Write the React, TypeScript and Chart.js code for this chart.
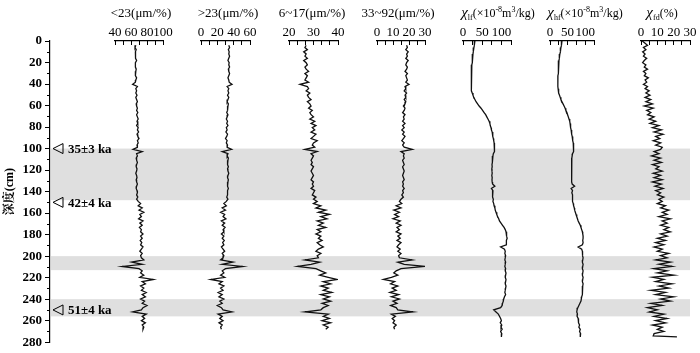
import React, { useEffect, useRef } from 'react';
import { Chart, registerables } from 'chart.js';

Chart.register(...registerables);

const W = 700;
const H = 353;
const SERIF = "'Liberation Serif', 'Times New Roman', 'DejaVu Serif', serif";
const CJK_SERIF = "'Liberation Serif', 'Noto Serif CJK SC', 'Noto Sans CJK SC', serif";
const PLOT_TOP = 41;
const PLOT_BOTTOM = 344.5;
const PAD = 48;

// ---- depth axis ----
const depthTicks = [0, 20, 40, 60, 80, 100, 120, 140, 160, 180, 200, 220, 240, 260, 280];
const depthMinorTicks = [10, 30, 50, 70, 90, 110, 130, 150, 170, 190, 210, 230, 250, 270];
const bandStart = [100, 200, 240];
const bandEnd = [148, 213, 256];
const markerDepth = [100, 150, 250];
const markerLabel = ['35±3 ka', '42±4 ka', '51±4 ka'];

// ---- sample depths (cm) ----
const grainDepth = [
  4, 6, 8, 10, 12, 14, 16, 18, 20, 22,
  24, 26, 28, 30, 32, 34, 36, 38, 40, 42,
  44, 46, 48, 50, 52, 54, 56, 58, 60, 62,
  64, 66, 68, 70, 72, 74, 76, 78, 80, 82,
  84, 86, 88, 90, 92, 94, 96, 98, 100, 102,
  104, 106, 108, 110, 112, 114, 116, 118, 120, 122,
  124, 126, 128, 130, 132, 134, 136, 138, 140, 142,
  144, 146, 148, 150, 152, 154, 156, 158, 160, 162,
  164, 166, 168, 170, 172, 174, 176, 178, 180, 182,
  184, 186, 188, 190, 192, 194, 196, 198, 200, 202,
  204, 206, 208, 210, 212, 214, 216, 218, 220, 222,
  224, 226, 228, 230, 232, 234, 236, 238, 240, 242,
  244, 246, 248, 250, 252, 254, 256, 258, 260, 262,
  264, 266,
];
const magDepth = [
  0, 2, 4, 6, 8, 10, 12, 14, 16, 18,
  20, 22, 24, 26, 28, 30, 32, 34, 36, 38,
  40, 42, 44, 46, 48, 50, 52, 54, 56, 58,
  60, 62, 64, 66, 68, 70, 72, 74, 76, 78,
  80, 82, 84, 86, 88, 90, 92, 94, 96, 98,
  100, 102, 104, 106, 108, 110, 112, 114, 116, 118,
  120, 122, 124, 126, 128, 130, 132, 134, 136, 138,
  140, 142, 144, 146, 148, 150, 152, 154, 156, 158,
  160, 162, 164, 166, 168, 170, 172, 174, 176, 178,
  180, 182, 184, 186, 188, 190, 192, 194, 196, 198,
  200, 202, 204, 206, 208, 210, 212, 214, 216, 218,
  220, 222, 224, 226, 228, 230, 232, 234, 236, 238,
  240, 242, 244, 246, 248, 250, 252, 254, 256, 258,
  260, 262, 264, 266, 268, 270, 272, 273,
];

// ---- series ----
const finerThan23 = [
  66, 65, 66.5, 65.5, 66, 65, 66, 67, 65.5, 66,
  65, 66.5, 66, 65, 66, 67, 66, 65.5, 62, 68,
  66, 67, 66, 67.5, 66, 67, 68, 66.5, 67, 68,
  67, 68.5, 67, 68, 69, 67.5, 68.5, 67, 69, 68,
  69.5, 67.5, 68.5, 70, 68, 69, 67.5, 68, 62.5, 74,
  67, 68, 66.5, 67, 68, 67, 66.5, 67.5, 67, 66,
  67, 67.5, 66.5, 67, 68, 67, 66.5, 67.5, 68, 67,
  68.5, 67, 69, 72, 69, 74, 70, 76, 71, 73,
  69.5, 75, 71, 74, 70.5, 73, 72, 75, 72, 74,
  71.5, 73.5, 72, 75, 73, 71, 74, 72, 73, 76,
  61, 74, 49, 70, 74, 72, 76, 71, 88, 74,
  78, 72, 76, 73, 79, 74, 78, 72, 77, 74,
  80, 75, 73, 62, 79, 74, 77, 73, 78, 74,
  76, 75,
];
const coarserThan23 = [
  34, 35, 33.5, 34.5, 34, 35, 34, 33, 34.5, 34,
  35, 33.5, 34, 35, 34, 33, 34, 34.5, 38, 32,
  34, 33, 34, 32.5, 34, 33, 32, 33.5, 33, 32,
  33, 31.5, 33, 32, 31, 32.5, 31.5, 33, 31, 32,
  30.5, 32.5, 31.5, 30, 32, 31, 32.5, 32, 37.5, 26,
  33, 32, 33.5, 33, 32, 33, 33.5, 32.5, 33, 34,
  33, 32.5, 33.5, 33, 32, 33, 33.5, 32.5, 32, 33,
  31.5, 33, 31, 28, 31, 26, 30, 24, 29, 27,
  30.5, 25, 29, 26, 29.5, 27, 28, 25, 28, 26,
  28.5, 26.5, 28, 25, 27, 29, 26, 28, 27, 24,
  39, 26, 51, 30, 26, 28, 24, 29, 12, 26,
  22, 28, 24, 27, 21, 26, 22, 28, 23, 26,
  20, 25, 27, 38, 21, 26, 23, 27, 22, 26,
  24, 25,
];
const fine6to17 = [
  27, 26.5, 27.5, 26, 27, 26.5, 27.5, 26, 27, 27.5,
  26.5, 27, 28, 26.5, 27.5, 27, 26.5, 28, 24.5, 27.5,
  28, 27, 28.5, 27.5, 28, 29, 27.5, 28.5, 29, 28,
  29.5, 28.5, 29, 30, 28.5, 30.5, 29, 31, 29.5, 30.5,
  29, 31, 30, 29, 31.5, 30, 29.5, 30.5, 26.5, 31.5,
  29, 30, 29.5, 29, 29.5, 29, 30, 29.5, 29, 29.5,
  30, 29.5, 29, 30, 29.5, 30, 29, 30.5, 30, 29.5,
  31, 30, 31.5, 30, 33, 31, 35, 32, 36.5, 33,
  35.5, 31.5, 34, 32, 35, 31.5, 33, 31, 33, 32,
  33.5, 31.5, 32.5, 34, 32, 31, 33, 31.5, 32, 26.5,
  32.5, 29, 23.5, 31, 33, 35, 32.5, 36, 39.5, 34,
  37, 33, 36, 34, 37.5, 33, 36.5, 34, 37, 33.5,
  36, 34, 33, 26.5, 36, 34, 36.5, 33.5, 37, 34,
  36, 35,
];
const coarse33to92 = [
  18.5, 19, 18, 19.5, 18.5, 19, 18, 19.5, 18.5, 18,
  19, 18.5, 17.5, 19, 18, 18.5, 19, 18, 20, 17.5,
  18, 17, 18.5, 17.5, 18, 17, 18, 17.5, 16.5, 17.5,
  17, 16, 17.5, 16.5, 17, 16, 17.5, 16, 17, 15.5,
  17, 16, 17.5, 16.5, 15.5, 17, 16, 17, 22, 15,
  17, 16.5, 17, 16, 16.5, 17, 16, 16.5, 17, 16.5,
  16, 16.5, 17, 16, 16.5, 16, 17, 16, 16.5, 15.5,
  16.5, 15, 14, 15.5, 12, 15, 10.5, 14, 11, 13.5,
  10, 14.5, 12, 15, 12.5, 14, 12, 15, 13, 14.5,
  12.5, 15, 13.5, 12.5, 14.5, 13, 15, 13.5, 14, 22,
  13, 17, 30, 15, 12, 10.5, 13, 9, 4, 11,
  8.5, 13, 9.5, 12, 8, 13.5, 9, 14, 10, 12.5,
  8.5, 12, 13, 22.5, 9, 11.5, 9.5, 11, 10, 12,
  10.5, 11,
];
const chiLf = [
  31, 30, 29, 28.5, 27, 26.5, 26, 25, 24.5, 24,
  23.5, 23, 22.5, 22, 22, 21.5, 21.5, 21, 21.5, 21,
  22, 21.5, 22, 23, 24, 26, 28, 31, 34, 38,
  42, 47, 51, 55, 59, 62, 65, 68, 70, 71,
  73, 74, 76, 77, 78, 79, 80, 81, 82, 82,
  83, 81, 79, 78, 77, 76, 76.5, 75.5, 76, 75,
  75.5, 76, 75, 76, 75.5, 76, 77, 83, 74, 78,
  76, 78, 77, 79, 78, 80, 81, 83, 84, 86,
  88, 90, 93, 95, 99, 103, 107, 110, 112, 113,
  114, 115, 113, 114, 112, 98, 108, 110, 109, 111,
  110, 109, 111, 110, 109, 111, 110, 112, 111, 110,
  112, 111, 110, 112, 111, 110, 109, 111, 108, 106,
  105, 103, 102, 98, 80, 86, 92, 95, 98, 100,
  97, 101, 99, 102, 98, 101, 100, 100,
];
const chiHf = [
  34, 33, 32, 31, 30, 29, 28, 27, 26, 25.5,
  25, 24.5, 24, 23.5, 23, 23, 22.5, 22.5, 22, 22.5,
  22, 22.5, 23, 24, 25, 27, 29, 31, 34, 37,
  40, 43, 45, 48, 50, 52, 54, 56, 57, 58,
  59, 60, 61, 62, 63, 64, 65, 66, 67, 67,
  68, 66, 64, 63, 62, 61.5, 62, 61, 61.5, 61,
  62, 61, 61.5, 62, 61, 62, 63, 70, 60, 64,
  62, 64, 63, 65, 64, 66, 67, 69, 70, 72,
  74, 76, 78, 80, 83, 86, 88, 90, 92, 93,
  94, 94, 93, 94, 92, 80, 90, 92, 93, 92,
  94, 93, 92, 94, 93, 92, 94, 93, 92, 94,
  93, 92, 94, 93, 92, 93, 91, 92, 90, 89,
  88, 85, 82, 79, 77, 76, 78, 77, 80, 82,
  80, 84, 82, 86, 84, 87, 86, 86,
];
const chiFd = [
  0.8, 2.5, 4, 1.5, 3, 1, 2.5, 1.5, 3.5, 2,
  1, 3, 2, 4, 1.5, 3, 2, 4.5, 2.5, 3.5,
  1.5, 4, 2.5, 5, 3, 5.5, 2.5, 6, 3, 7,
  2, 7.5, 3.5, 6, 4, 8, 5, 9, 5.5, 11,
  7, 12.5, 8, 13.5, 9, 11.5, 7.5, 12, 9, 13,
  12, 8, 11, 6.5, 12, 8, 12.5, 7, 11, 9,
  13, 7.5, 12, 8, 13, 7, 12.5, 8.5, 13.5, 9,
  12, 10, 14, 11, 13, 10, 15, 12, 17, 13,
  16, 11, 18, 13, 16, 12, 17, 14, 18, 12,
  16, 10, 15, 9, 14, 8, 13, 10, 17, 12,
  16, 9, 18, 11, 19, 8, 16, 10, 20, 7,
  14, 9, 19, 11, 17, 6, 15, 9, 20, 12,
  18, 6, 13, 4, 10, 5, 14, 8, 16, 9,
  15, 7, 13, 10, 14, 8, 7.5, 22,
];

// ---- panel tick values / labels ----
const ticksFiner23 = [40, 50, 60, 70, 80, 90, 100];
const labelsFiner23 = [40, 60, 80, 100];
const ticksCoarser23 = [0, 10, 20, 30, 40, 50, 60];
const labelsCoarser23 = [0, 20, 40, 60];
const ticksFine6to17 = [20, 23.333, 26.667, 30, 33.333, 36.667, 40];
const labelsFine6to17 = [20, 30, 40];
const ticksCoarse33to92 = [0, 5, 10, 15, 20, 25, 30];
const labelsCoarse33to92 = [0, 10, 20, 30];
const ticksChi = [0, 25, 50, 75, 100, 125];
const labelsChi = [0, 50, 100];
const ticksFd = [0, 5, 10, 15, 20, 25, 30];
const labelsFd = [0, 10, 20, 30];

type Part = { t: string; size: number; dy?: number; italic?: boolean };

const chiUnit = (sub: string): Part[] => [
  { t: 'χ', size: 15, italic: true },
  { t: sub, size: 8, dy: 3 },
  { t: '(×10', size: 12 },
  { t: '-8', size: 8, dy: -5 },
  { t: 'm', size: 12 },
  { t: '3', size: 8, dy: -5 },
  { t: '/kg)', size: 12 },
];

const panels = [
  { depth: grainDepth, values: finerThan23, min: 40, max: 100, ticks: ticksFiner23, labels: labelsFiner23, left: 115, right: 163, titleX: 141, title: [{ t: '<23(μm/%)', size: 13 }] as Part[] },
  { depth: grainDepth, values: coarserThan23, min: 0, max: 60, ticks: ticksCoarser23, labels: labelsCoarser23, left: 201, right: 250, titleX: 228, title: [{ t: '>23(μm/%)', size: 13 }] as Part[] },
  { depth: grainDepth, values: fine6to17, min: 20, max: 40, ticks: ticksFine6to17, labels: labelsFine6to17, left: 289, right: 338, titleX: 312, title: [{ t: '6~17(μm/%)', size: 13 }] as Part[] },
  { depth: grainDepth, values: coarse33to92, min: 0, max: 30, ticks: ticksCoarse33to92, labels: labelsCoarse33to92, left: 377, right: 425, titleX: 398, title: [{ t: '33~92(μm/%)', size: 13 }] as Part[] },
  { depth: magDepth, values: chiLf, min: 0, max: 125, ticks: ticksChi, labels: labelsChi, left: 463, right: 511, titleX: 498, title: chiUnit('lf') },
  { depth: magDepth, values: chiHf, min: 0, max: 125, ticks: ticksChi, labels: labelsChi, left: 550, right: 594, titleX: 585, title: chiUnit('hf') },
  { depth: magDepth, values: chiFd, min: 0, max: 30, ticks: ticksFd, labels: labelsFd, left: 641, right: 690, titleX: 662, title: [{ t: 'χ', size: 15, italic: true }, { t: 'fd', size: 8, dy: 3 }, { t: '(%)', size: 12 }] as Part[] },
];

function drawTitle(ctx: CanvasRenderingContext2D, parts: Part[], cx: number, baseline: number) {
  const fontOf = (p: Part) => `${p.italic ? 'italic ' : ''}${p.size}px ${SERIF}`;
  let total = 0;
  const widths = parts.map((p) => {
    ctx.font = fontOf(p);
    const w = ctx.measureText(p.t).width;
    total += w;
    return w;
  });
  let x = cx - total / 2;
  ctx.fillStyle = '#000';
  ctx.textAlign = 'left';
  ctx.textBaseline = 'alphabetic';
  parts.forEach((p, i) => {
    ctx.font = fontOf(p);
    ctx.fillText(p.t, x, baseline + (p.dy || 0));
    x += widths[i];
  });
}

export default function App() {
  const mainRef = useRef<HTMLCanvasElement | null>(null);
  const panelRefs = useRef<(HTMLCanvasElement | null)[]>([]);

  useEffect(() => {
    document.body.style.margin = '0';
    const charts: Chart[] = [];

    const decor = {
      id: 'depthDecor',
      beforeDatasetsDraw(chart: any) {
        const { ctx, chartArea, scales } = chart;
        const y = scales.y;
        ctx.save();
        ctx.fillStyle = '#dfdfdf';
        bandStart.forEach((s, i) => {
          const y1 = y.getPixelForValue(s);
          const y2 = y.getPixelForValue(bandEnd[i]);
          ctx.fillRect(chartArea.left + 1, y1, chartArea.right - chartArea.left - 1, y2 - y1);
        });
        ctx.restore();
      },
      afterDraw(chart: any) {
        const { ctx, chartArea, scales } = chart;
        const y = scales.y;
        ctx.save();
        ctx.strokeStyle = '#000';
        ctx.lineWidth = 1;
        depthMinorTicks.forEach((d) => {
          const py = Math.round(y.getPixelForValue(d)) + 0.5;
          ctx.beginPath();
          ctx.moveTo(chartArea.left - 3, py);
          ctx.lineTo(chartArea.left, py);
          ctx.stroke();
        });
        markerDepth.forEach((d, i) => {
          const py = y.getPixelForValue(d);
          const x0 = chartArea.left + 3;
          ctx.beginPath();
          ctx.moveTo(x0, py);
          ctx.lineTo(x0 + 10, py - 5);
          ctx.lineTo(x0 + 10, py + 5);
          ctx.closePath();
          ctx.stroke();
          ctx.fillStyle = '#000';
          ctx.font = `bold 13px ${SERIF}`;
          ctx.textAlign = 'left';
          ctx.textBaseline = 'middle';
          ctx.fillText(markerLabel[i], x0 + 15, py + 1);
        });
        ctx.restore();
      },
    };

    if (mainRef.current) {
      charts.push(
        new Chart(mainRef.current, {
          type: 'line',
          data: { datasets: [] },
          options: {
            animation: false,
            responsive: false,
            devicePixelRatio: 1,
            events: [],
            layout: { padding: { left: 0, top: PLOT_TOP, right: 10, bottom: H - PLOT_BOTTOM } },
            plugins: { legend: { display: false }, tooltip: { enabled: false } },
            scales: {
              x: { type: 'linear', display: false, min: 0, max: 1 },
              y: {
                type: 'linear',
                position: 'left',
                min: 0,
                max: 280,
                reverse: true,
                afterFit: (s: any) => {
                  s.width = 50;
                },
                afterBuildTicks: (s: any) => {
                  s.ticks = depthTicks.map((v) => ({ value: v }));
                },
                ticks: {
                  autoSkip: false,
                  padding: 3,
                  color: '#000',
                  font: { family: SERIF, size: 13, weight: 'bold' },
                },
                grid: { drawOnChartArea: false, tickLength: 5, color: '#000' },
                border: { color: '#000', width: 1.2 },
                title: {
                  display: true,
                  text: '深度(cm)',
                  color: '#000',
                  font: { family: CJK_SERIF, size: 12, weight: 'bold' },
                  padding: { top: 3, bottom: 0 },
                },
              },
            },
          } as any,
          plugins: [decor],
        })
      );
    }

    panels.forEach((p, idx) => {
      const canvas = panelRefs.current[idx];
      if (!canvas) return;
      const canvasLeft = p.left - PAD;
      const n = Math.min(p.depth.length, p.values.length);
      const pts = [] as { x: number; y: number }[];
      for (let i = 0; i < n; i++) pts.push({ x: p.values[i], y: p.depth[i] });
      const titlePlugin = {
        id: 'panelTitle' + idx,
        afterDraw(chart: any) {
          const ctx = chart.ctx as CanvasRenderingContext2D;
          ctx.save();
          drawTitle(ctx, p.title, p.titleX - canvasLeft, 17);
          ctx.restore();
        },
      };
      charts.push(
        new Chart(canvas, {
          type: 'line',
          data: {
            datasets: [
              {
                data: pts,
                borderColor: '#111',
                borderWidth: 1.3,
                pointRadius: 0,
                fill: false,
                tension: 0,
              },
            ],
          },
          options: {
            indexAxis: 'y',
            animation: false,
            responsive: false,
            devicePixelRatio: 1,
            events: [],
            layout: { padding: { left: PAD, right: PAD, top: 0, bottom: H - PLOT_BOTTOM } },
            plugins: { legend: { display: false }, tooltip: { enabled: false } },
            scales: {
              x: {
                type: 'linear',
                position: 'top',
                min: p.min,
                max: p.max,
                afterFit: (s: any) => {
                  s.height = PLOT_TOP;
                },
                afterBuildTicks: (s: any) => {
                  s.ticks = p.ticks.map((v) => ({ value: v }));
                },
                ticks: {
                  autoSkip: false,
                  maxRotation: 0,
                  minRotation: 0,
                  padding: 5,
                  color: '#000',
                  font: { family: SERIF, size: 13 },
                  callback: (v: any) => (p.labels.indexOf(Number(v)) >= 0 ? String(v) : ''),
                },
                grid: { drawOnChartArea: false, drawTicks: true, tickLength: -4, color: '#000' },
                border: { display: true, color: '#000', width: 1.2 },
              },
              y: { type: 'linear', display: false, min: 0, max: 280, reverse: true },
            },
          } as any,
          plugins: [titlePlugin],
        })
      );
    });

    return () => charts.forEach((c) => c.destroy());
  }, []);

  return (
    <div style={{ position: 'fixed', left: 0, top: 0, width: W, height: H, background: '#fff', overflow: 'hidden' }}>
      <canvas ref={mainRef} width={W} height={H} style={{ position: 'absolute', left: 0, top: 0 }} />
      {panels.map((p, i) => (
        <canvas
          key={i}
          ref={(el) => {
            panelRefs.current[i] = el;
          }}
          width={p.right - p.left + 2 * PAD}
          height={H}
          style={{ position: 'absolute', left: p.left - PAD, top: 0 }}
        />
      ))}
    </div>
  );
}
